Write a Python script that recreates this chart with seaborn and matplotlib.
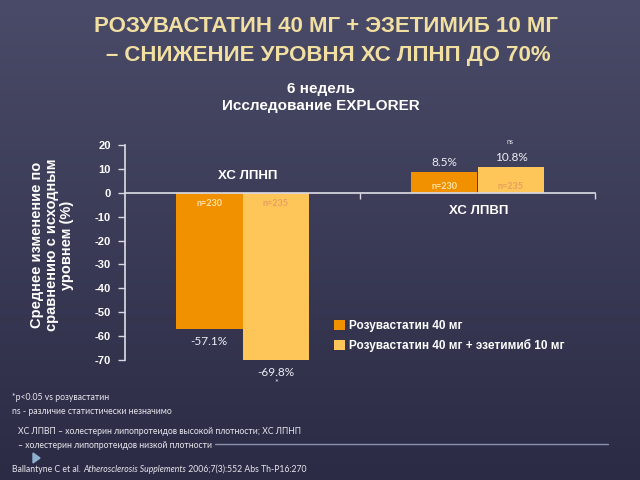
import numpy as np
import pandas as pd
import matplotlib
matplotlib.use("Agg")
import matplotlib.pyplot as plt
import seaborn as sns
from matplotlib.colors import LinearSegmentedColormap
from matplotlib.lines import Line2D
from matplotlib.patches import Polygon

# ---- data ----
categories = ["ХС ЛПНП", "ХС ЛПВП"]
series = ["Розувастатин 40 мг", "Розувастатин 40 мг + эзетимиб 10 мг"]
rosu = [-57.1, 8.5]
rosu_eze = [-69.8, 10.8]
value_labels_rosu = ["-57.1%", "8.5%"]
value_labels_eze = ["-69.8%", "10.8%"]
n_rosu = ["n=230", "n=230"]
n_eze = ["n=235", "n=235"]
marks_eze = ["*", "ns"]
yticks = [20, 10, 0, -10, -20, -30, -40, -50, -60, -70]
colors = ["#f29100", "#fec659"]

df = pd.DataFrame({
    "cat": categories * 2,
    "series": [series[0]] * len(categories) + [series[1]] * len(categories),
    "value": rosu + rosu_eze,
})

sns.set_theme(style="white")
plt.rcParams["font.family"] = ["Liberation Sans", "DejaVu Sans"]
HUM = ["Lato", "Liberation Sans", "DejaVu Sans"]
W = 640.0
H = 480.0

fig = plt.figure(figsize=(6.4, 4.8), dpi=100)
bg = fig.add_axes([0, 0, 1, 1], zorder=-10)
grad = np.linspace(0, 1, 256).reshape(-1, 1)
cmap = LinearSegmentedColormap.from_list("bg", ["#4a4b68", "#2b2b45"])
bg.imshow(grad, aspect="auto", cmap=cmap)
bg.axis("off")

ax = fig.add_axes([125 / W, 1 - 360 / H, 470 / W, 215 / H])
ax.set_facecolor("none")
sns.barplot(data=df, x="cat", y="value", hue="series", palette=colors,
            width=0.57, saturation=1, linewidth=0, ax=ax, errorbar=None)

ax.set_ylim(-70, 20)
ax.set_xlim(-0.5, 1.5)
ax.set_yticks(yticks)
ax.set_yticklabels([str(v) for v in yticks], color="white", fontweight="bold", fontsize=8)
ax.set_xticks([0.5, 1.5])
ax.set_xticklabels(["", ""])
ax.tick_params(axis="y", left=True, direction="out", length=5, width=1, color="#d8d8e0", pad=5)
ax.tick_params(axis="x", bottom=True, direction="out", length=4, width=1, color="#d8d8e0")
for s in ["top", "right"]:
    ax.spines[s].set_visible(False)
ax.spines["left"].set_color("#d8d8e0")
ax.spines["bottom"].set_color("#d8d8e0")
ax.spines["bottom"].set_position(("data", 0))
ax.set_xlabel("")
ax.set_ylabel("")

# category labels
ax.annotate(categories[0], (0, 0), xytext=(4, 12), textcoords="offset points",
            ha="center", va="center", color="white", fontweight="bold", fontsize=9.5)
ax.annotate(categories[1], (1, 0), xytext=(1, -13), textcoords="offset points",
            ha="center", va="center", color="white", fontweight="bold", fontsize=9.5)

# bar labels
conts = ax.containers
for cont, vlabels, nlabels, ncol in [(conts[0], value_labels_rosu, n_rosu, "#fde6b0"),
                                     (conts[1], value_labels_eze, n_eze, "#e6a060")]:
    for p, vl, nl in zip(cont, vlabels, nlabels):
        x = p.get_x() + p.get_width() / 2
        neg = p.get_height() < 0
        end = p.get_y() + p.get_height()
        ax.annotate(vl, (x, end), xytext=(0, -9 if neg else 7), textcoords="offset points",
                    ha="center", va="center", color="#eeeef4", fontsize=8.5, family=HUM,
                    annotation_clip=False)
        ax.annotate(nl, (x, 0), xytext=(0, -7.5 if neg else 4.5), textcoords="offset points",
                    ha="center", va="center", color=ncol, fontsize=6.5,
                    fontweight="bold", family=HUM)
for p, m in zip(conts[1], marks_eze):
    x = p.get_x() + p.get_width() / 2
    end = p.get_y() + p.get_height()
    if p.get_height() < 0:
        ax.annotate(m, (x, end), xytext=(0, -17.5), textcoords="offset points",
                    ha="center", va="center", color="#e0e0e8", fontsize=6.5, family=HUM,
                    annotation_clip=False)
    else:
        ax.annotate(m, (x, end), xytext=(-1, 18), textcoords="offset points",
                    ha="center", va="center", color="#e0e0e8", fontsize=5, family=HUM,
                    annotation_clip=False)

# legend
handles, labels = ax.get_legend_handles_labels()
ax.legend(handles, labels, loc="upper left", bbox_to_anchor=(0.445, 0.185),
          frameon=False, prop=dict(weight="bold", size=8.5), labelcolor="white",
          handlelength=0.9, handleheight=0.9, handletextpad=0.4, labelspacing=0.55,
          borderaxespad=0, borderpad=0)

# y label
fig.text(52 / W, 1 - 245 / H, "Среднее изменение по\nсравнению с исходным\nуровнем (%)",
         rotation=90, ha="center", va="center", multialignment="center",
         color="white", fontweight="bold", fontsize=10.5, linespacing=1.1)

# titles
fig.text(326 / W, 1 - 27 / H, "РОЗУВАСТАТИН 40 МГ + ЭЗЕТИМИБ 10 МГ", ha="center", va="center",
         color="#f2e0a2", fontsize=16, fontweight="bold")
fig.text(328 / W, 1 - 55 / H, "– СНИЖЕНИЕ УРОВНЯ ХС ЛПНП ДО 70%", ha="center", va="center",
         color="#f2e0a2", fontsize=16, fontweight="bold")
fig.text(321 / W, 1 - 89 / H, "6 недель", ha="center", va="center",
         color="white", fontsize=11, fontweight="bold")
fig.text(321 / W, 1 - 106 / H, "Исследование EXPLORER", ha="center", va="center",
         color="white", fontsize=11, fontweight="bold")

# footnotes
fn = dict(color="#e8e8f0", fontsize=6.2, family=HUM, va="center", ha="left")
fig.text(12 / W, 1 - 397 / H, "*p<0.05 vs розувастатин", **fn)
fig.text(12 / W, 1 - 411 / H, "ns - различие статистически незначимо", **fn)
fig.text(18 / W, 1 - 432 / H, "ХС ЛПВП – холестерин липопротеидов высокой плотности; ХС ЛПНП", **fn)
fig.text(18 / W, 1 - 445 / H, "– холестерин липопротеидов низкой плотности", **fn)
fig.add_artist(Line2D([215 / W, 608 / W], [1 - 444 / H, 1 - 444 / H], color="#8a90aa", lw=1))
fig.add_artist(Polygon([[33 / W, 1 - 453 / H], [33 / W, 1 - 463 / H], [40 / W, 1 - 458 / H]],
                       closed=True, color="#8fb0d0", transform=fig.transFigure))
t1 = fig.text(12 / W, 1 - 469 / H, "Ballantyne C et al. ", **fn)
t2 = plt.annotate("Atherosclerosis Supplements", xy=(1, 0.5), xycoords=t1, va="center", ha="left",
                  color="#e8e8f0", fontsize=6.2, family=HUM, style="italic", annotation_clip=False)
plt.annotate(" 2006;7(3):552 Abs Th-P16:270", xy=(1, 0.5), xycoords=t2, va="center", ha="left",
             color="#e8e8f0", fontsize=6.2, family=HUM, annotation_clip=False)

fig.savefig("out.png", dpi=100)
